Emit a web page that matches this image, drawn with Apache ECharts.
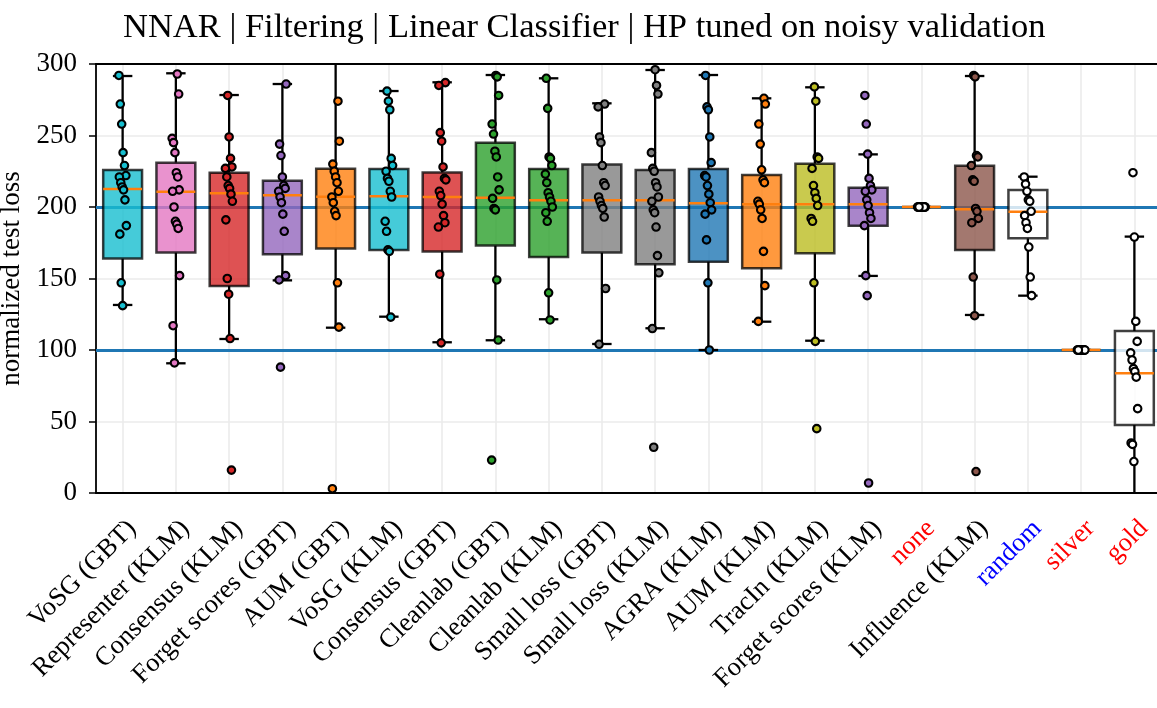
<!DOCTYPE html>
<html>
<head>
<meta charset="utf-8">
<title>NNAR | Filtering | Linear Classifier</title>
<script src="https://cdn.jsdelivr.net/npm/echarts@6/dist/echarts.min.js"></script>
<style>
  html, body { margin: 0; padding: 0; background: #fff; }
  #chart { width: 1157px; height: 708px; }
</style>
</head>
<body>
<div id="chart"></div>
<script>
// Methods evaluated, in plotting order
const categories = [
  'VoSG (GBT)', 'Representer (KLM)', 'Consensus (KLM)', 'Forget scores (GBT)', 'AUM (GBT)',
  'VoSG (KLM)', 'Consensus (GBT)', 'Cleanlab (GBT)', 'Cleanlab (KLM)', 'Small loss (GBT)',
  'Small loss (KLM)', 'AGRA (KLM)', 'AUM (KLM)', 'TracIn (KLM)', 'Forget scores (KLM)',
  'none', 'Influence (KLM)', 'random', 'silver', 'gold'
];

// Box statistics per method: [lower whisker, Q1, median, Q3, upper whisker]
const boxStats = [
  [131.5, 163.9, 212.6, 225.9, 291.6],
  [90.7, 168.1, 210.7, 231.0, 293.5],
  [107.7, 144.8, 209.6, 224.0, 278.3],
  [148.7, 166.9, 208.2, 218.4, 286.0],
  [115.6, 170.9, 207.2, 226.8, 306.0],
  [123.3, 169.9, 207.5, 226.6, 281.1],
  [105.4, 168.8, 207.0, 224.2, 287.2],
  [106.8, 173.0, 206.5, 245.0, 292.3],
  [121.5, 165.1, 204.7, 226.6, 290.0],
  [104.2, 168.1, 204.7, 229.8, 272.5],
  [115.2, 159.9, 204.7, 225.9, 295.8],
  [100.0, 161.8, 202.6, 226.6, 292.3],
  [119.8, 157.1, 201.9, 222.4, 276.0],
  [106.5, 167.6, 201.9, 230.3, 283.7],
  [151.8, 186.9, 201.9, 213.5, 236.8],
  [200, 200, 200, 200, 200],
  [124.5, 169.9, 198.4, 228.9, 291.6],
  [138.0, 178.1, 196.7, 211.9, 221.2],
  [100, 100, 100, 100, 100],
  [-15, 47.6, 83.7, 113.3, 179.3]
];

// Individual runs (normalized test loss) per method
const runs = [
  [292, 272, 258, 238, 229, 222, 221, 217, 214, 212, 205, 187, 181, 147, 131],
  [293, 279, 248, 245, 238, 224, 221, 212, 211, 200, 190, 188, 185, 152, 117, 91],
  [278, 249, 234, 228, 227, 221, 215, 213, 209, 204, 191, 150, 139, 108, 16],
  [286, 244, 236, 221, 215, 213, 211, 207, 203, 195, 183, 152, 149, 88],
  [306, 274, 246, 230, 225, 221, 217, 211, 207, 203, 197, 194, 147, 116, 3],
  [281, 274, 268, 234, 229, 225, 220, 218, 211, 207, 190, 183, 170, 169, 123],
  [287, 285, 252, 246, 228, 220, 219, 211, 208, 202, 194, 189, 186, 153, 105],
  [292, 291, 278, 258, 251, 239, 235, 221, 212, 206, 199, 198, 149, 107, 23],
  [290, 269, 235, 234, 229, 223, 217, 210, 207, 204, 200, 196, 190, 140, 121],
  [272, 270, 249, 245, 229, 217, 215, 207, 204, 201, 199, 193, 143, 104],
  [296, 285, 279, 238, 227, 225, 217, 214, 207, 204, 198, 196, 186, 166, 154, 115, 32],
  [292, 270, 268, 249, 231, 222, 221, 215, 209, 203, 198, 195, 177, 147, 100],
  [276, 272, 258, 244, 226, 219, 217, 204, 202, 198, 192, 169, 145, 120],
  [284, 274, 235, 234, 227, 215, 210, 206, 201, 192, 190, 147, 106, 45],
  [278, 258, 237, 220, 215, 212, 211, 205, 201, 196, 192, 187, 152, 138, 7],
  [200, 200, 200, 200, 200, 200, 200, 200, 200, 200, 200, 200, 200, 200, 200],
  [292, 291, 236, 235, 229, 219, 218, 199, 197, 192, 189, 151, 124, 15],
  [221, 216, 211, 205, 204, 197, 194, 189, 185, 172, 151, 138],
  [100, 100, 100, 100, 100, 100, 100, 100, 100, 100, 100, 100, 100, 100, 100],
  [224, 179, 120, 106, 98, 93, 87, 85, 81, 59, 35, 34, 22, -15]
];

// Reference levels
const referenceLevels = [200, 100];

// y-axis ticks
const yTicks = { min: 0, max: 300, step: 50 };

const boxColors = [
  '#17becf', '#e377c2', '#d62728', '#9467bd', '#ff7f0e',
  '#17becf', '#d62728', '#2ca02c', '#2ca02c', '#7f7f7f',
  '#7f7f7f', '#1f77b4', '#ff7f0e', '#bcbd22', '#9467bd',
  '#ffffff', '#8c564b', '#ffffff', '#ffffff', '#ffffff'
];
const labelColor = { none: '#ff0000', random: '#0000ff', silver: '#ff0000', gold: '#ff0000' };

const FONT = "'Liberation Serif', 'DejaVu Serif', serif";

function hexToRgba(hex, a) {
  const n = parseInt(hex.slice(1), 16);
  return 'rgba(' + ((n >> 16) & 255) + ',' + ((n >> 8) & 255) + ',' + (n & 255) + ',' + a + ')';
}

// small deterministic horizontal spread so overlapping runs stay visible
function spread(catIdx, i) {
  return (((i * 37 + catIdx * 11) % 17) / 16 - 0.5) * 0.14;
}

const scatterData = [];
runs.forEach((vals, c) => {
  vals.forEach((v, i) => {
    scatterData.push({ value: [c + spread(c, i), v], itemStyle: { color: boxColors[c] } });
  });
});

const boxData = boxStats.map((s, i) => [i].concat(s));

const chart = echarts.init(document.getElementById('chart'), null, { renderer: 'canvas' });

function blackLine(x1, y1, x2, y2) {
  return {
    type: 'line',
    shape: { x1: x1, y1: y1, x2: x2, y2: y2 },
    style: { stroke: '#000000', lineWidth: 2.3, fill: null }
  };
}

chart.setOption({
  animation: false,
  backgroundColor: '#ffffff',
  title: {
    text: 'NNAR | Filtering | Linear Classifier | HP tuned on noisy validation',
    left: 118,
    top: 5,
    textStyle: { fontFamily: FONT, fontSize: 34.5, fontWeight: 'normal', color: '#000' }
  },
  grid: {
    left: 96, right: -4, top: 64, bottom: 215,
    containLabel: false,
    outerBoundsMode: 'none'
  },
  xAxis: [
    {
      type: 'category',
      data: categories,
      position: 'bottom',
      boundaryGap: true,
      z: 6,
      axisLine: { onZero: false, lineStyle: { color: '#000', width: 1.8 } },
      axisTick: { alignWithLabel: true, length: 7, lineStyle: { color: '#000', width: 1.5 } },
      axisLabel: {
        interval: 0,
        rotate: 45,
        margin: 22,
        align: 'right',
        verticalAlign: 'top',
        fontFamily: FONT,
        fontSize: 26.5,
        color: (val) => labelColor[val] || '#000'
      },
      splitLine: { show: false }
    },
    {
      type: 'value',
      min: -0.5,
      max: 19.5,
      position: 'top',
      z: 6,
      axisLine: { show: true, onZero: false, lineStyle: { color: '#000', width: 1.8 } },
      axisTick: { show: false },
      axisLabel: { show: false },
      splitLine: { show: false }
    }
  ],
  yAxis: {
    type: 'value',
    min: yTicks.min,
    max: yTicks.max,
    interval: yTicks.step,
    position: 'left',
    name: 'normalized test loss',
    nameLocation: 'middle',
    nameGap: 60,
    nameRotate: 90,
    nameTextStyle: { fontFamily: FONT, fontSize: 27, color: '#000' },
    axisLine: { show: true, onZero: false, lineStyle: { color: '#000', width: 1.8 } },
    axisTick: { show: true, length: 7, lineStyle: { color: '#000', width: 1.5 } },
    axisLabel: { fontFamily: FONT, fontSize: 27, color: '#000', margin: 19 },
    splitLine: { show: true, lineStyle: { color: '#ebebeb', width: 1.6 } }
  },
  series: [
    {
      // vertical grid lines through each method
      type: 'line',
      xAxisIndex: 1,
      data: [],
      z: 1,
      silent: true,
      markLine: {
        z: 1,
        silent: true,
        symbol: ['none', 'none'],
        label: { show: false },
        lineStyle: { color: '#ebebeb', width: 1.6, type: 'solid' },
        data: categories.map((_, i) => ({ xAxis: i }))
      }
    },
    {
      // reference levels
      type: 'line',
      xAxisIndex: 1,
      data: [],
      z: 2,
      silent: true,
      markLine: {
        z: 2,
        silent: true,
        symbol: ['none', 'none'],
        label: { show: false },
        lineStyle: { color: '#1f77b4', width: 3.2, type: 'solid', opacity: 1 },
        data: referenceLevels.map((v) => ({ yAxis: v }))
      }
    },
    {
      type: 'custom',
      xAxisIndex: 0,
      clip: true,
      z: 3,
      data: boxData,
      encode: { x: 0, y: [1, 2, 3, 4, 5] },
      renderItem: function (params, api) {
        const idx = api.value(0);
        const lo = api.coord([idx, api.value(1)]);
        const q1 = api.coord([idx, api.value(2)]);
        const md = api.coord([idx, api.value(3)]);
        const q3 = api.coord([idx, api.value(4)]);
        const hi = api.coord([idx, api.value(5)]);
        const band = api.size([1, 0])[0];
        const bw = band * 0.73;
        const cw = bw / 2;
        const x = md[0];
        const col = boxColors[idx];
        return {
          type: 'group',
          children: [
            blackLine(x, q3[1], x, hi[1]),
            blackLine(x, q1[1], x, lo[1]),
            blackLine(x - cw / 2, hi[1], x + cw / 2, hi[1]),
            blackLine(x - cw / 2, lo[1], x + cw / 2, lo[1]),
            {
              type: 'rect',
              shape: { x: x - bw / 2, y: q3[1], width: bw, height: q1[1] - q3[1] },
              style: { fill: hexToRgba(col, 0.8), stroke: 'rgba(0,0,0,0.75)', lineWidth: 2.5 }
            },
            {
              type: 'line',
              shape: { x1: x - bw / 2, y1: md[1], x2: x + bw / 2, y2: md[1] },
              style: { stroke: '#ff7f0e', lineWidth: 2.5, fill: null }
            }
          ]
        };
      }
    },
    {
      type: 'scatter',
      xAxisIndex: 1,
      z: 4,
      clip: true,
      symbol: 'circle',
      symbolSize: 7.5,
      itemStyle: { borderColor: '#000', borderWidth: 2.1, opacity: 1 },
      data: scatterData
    }
  ]
});
</script>
</body>
</html>
